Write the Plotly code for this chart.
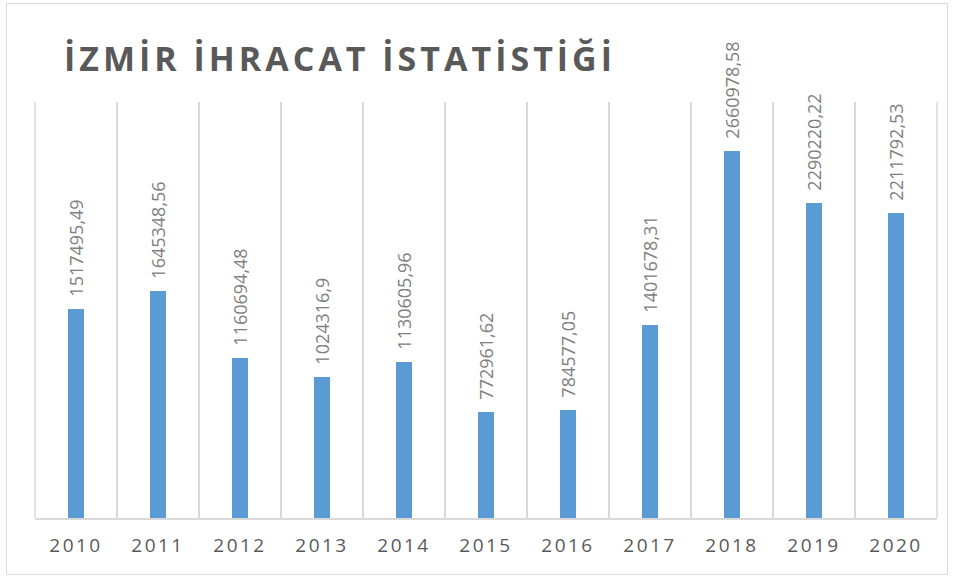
import plotly.graph_objects as go

years = ["2010", "2011", "2012", "2013", "2014", "2015", "2016", "2017", "2018", "2019", "2020"]
values = [1517495.49, 1645348.56, 1160694.48, 1024316.9, 1130605.96, 772961.62,
          784577.05, 1401678.31, 2660978.58, 2290220.22, 2211792.53]
value_labels = ["1517495,49", "1645348,56", "1160694,48", "1024316,9", "1130605,96", "772961,62",
                "784577,05", "1401678,31", "2660978,58", "2290220,22", "2211792,53"]
title_text = "İZMİR İHRACAT İSTATİSTİĞİ"

W, H = 954, 579
L, R, T, B = 35, 17, 102, 61
pw, ph = W - L - R, H - T - B

fig = go.Figure(go.Bar(
    x=years, y=values,
    marker=dict(color="#5B9BD5", line=dict(width=0)),
    width=0.185,
    text=["\u00a0\u00a0" + v for v in value_labels],
    textposition="outside",
    textangle=-90,
    constraintext="none",
    textfont=dict(family="Open Sans", size=18, color="#808080"),
    cliponaxis=False,
    hoverinfo="skip",
))

fig.update_layout(
    width=W, height=H,
    margin=dict(l=L, r=R, t=T, b=B),
    paper_bgcolor="white", plot_bgcolor="white",
    showlegend=False,
    bargap=0,
    font=dict(family="Open Sans", color="#595959"),
)
fig.update_xaxes(
    type="category",
    tickson="boundaries",
    showgrid=True, gridcolor="#D9D9D9", gridwidth=1.5,
    showline=True, linecolor="#D9D9D9", linewidth=1.5,
    ticks="", tickvals=years,
    ticktext=['<span style="letter-spacing:2.5px">' + y + '</span>' for y in years],
    tickfont=dict(family="Open Sans", size=19, color="#595959"),
    ticklabelstandoff=9,
    range=[-0.5, 10.5],
)
fig.update_yaxes(range=[0, 3.02e6], showgrid=False, showticklabels=False, zeroline=False, showline=False)

for xb in (0, 1):
    fig.add_shape(type="line", xref="paper", yref="paper", x0=xb, x1=xb, y0=0, y1=1,
                  line=dict(color="#D9D9D9", width=1.5), layer="below")

def px(x):
    return (x - L) / pw
def py(y):
    return (H - B - y) / ph

fig.add_shape(type="rect", xref="paper", yref="paper",
              x0=px(6.5), x1=px(947.5), y0=py(3.5), y1=py(574.5),
              line=dict(color="#D9D9D9", width=1), fillcolor="rgba(0,0,0,0)")

fig.add_annotation(
    text='<b><span style="letter-spacing:4px">' + title_text + '</span></b>',
    xref="paper", yref="paper",
    x=px(62), y=py(58),
    xanchor="left", yanchor="middle", showarrow=False,
    font=dict(family="Open Sans", size=34, color="#595959"),
)

fig.write_html("out.html", config={"displayModeBar": False},
               post_script="document.body.style.margin='0';document.body.style.overflow='hidden';")
